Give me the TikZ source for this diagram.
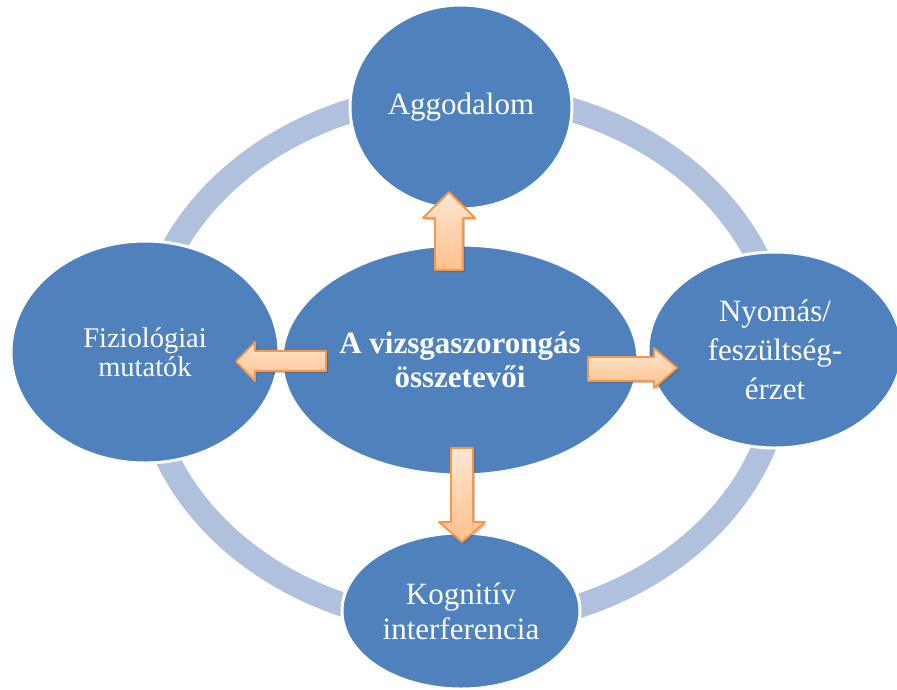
\documentclass[tikz,border=0pt]{standalone}
\usepackage{fontspec}
\setmainfont{Liberation Serif}
\usetikzlibrary{shapes.geometric,shadows}
\definecolor{discblue}{HTML}{4F81BD}
\definecolor{ringblue}{HTML}{B0C1DD}
\definecolor{arrowedge}{HTML}{F79646}
\definecolor{arrowlight}{HTML}{FFE6D2}
\definecolor{arrowdark}{HTML}{FFC08C}
\tikzset{
  disc/.style={ellipse, fill=discblue, draw=white, line width=3pt,
    text=white, align=center, inner sep=0pt},
  ringline/.style={draw=ringblue, line width=24pt},
  blockarrow/.style={draw=arrowedge, line width=1.8pt, line join=round,
    top color=arrowlight, bottom color=arrowdark,
    drop shadow={shadow xshift=2pt, shadow yshift=-2pt, opacity=0.3, fill=black!70}},
}
\begin{document}
\begin{tikzpicture}[x=1pt,y=-1pt]
\useasboundingbox (0,0) rectangle (897,689);

% background ring linking the four satellites
\draw[ringline] (463,359) ellipse [x radius=319pt, y radius=265pt];

% satellite discs
\node[disc, minimum width=222pt, minimum height=204pt,
  font=\fontsize{31}{35}\selectfont] (aggodalom) at (461,107) {Aggodalom};
\node[disc, minimum width=268pt, minimum height=222pt,
  font=\fontsize{28.5}{29.5}\selectfont] (fizio) at (145,352) {Fiziológiai\\mutatók};
\node[disc, minimum width=254pt, minimum height=196pt,
  font=\fontsize{31}{39}\selectfont] (nyomas) at (775,350) {Nyomás/\\feszültség-\\érzet};
\node[disc, minimum width=238pt, minimum height=156pt,
  font=\fontsize{31}{35}\selectfont] (kognitiv) at (461,611) {Kognitív\\interferencia};

% central disc
\node[disc, minimum width=356pt, minimum height=230pt,
  font=\bfseries\fontsize{31}{34}\selectfont] (center) at (460,360)
  {A vizsgaszorongás\\összetevői};

% block arrows from the central disc towards each satellite
\path[blockarrow] (435,270) -- (435,218) -- (423,218) -- (449,192)
  -- (475,218) -- (463,218) -- (463,270) -- cycle;
\path[blockarrow] (588,357) -- (654,357) -- (654,348) -- (677,368)
  -- (654,388) -- (654,381) -- (588,381) -- cycle;
\path[blockarrow] (326,351) -- (255,351) -- (255,342) -- (236,361.5)
  -- (255,381) -- (255,371) -- (326,371) -- cycle;
\path[blockarrow] (451,448) -- (451,522) -- (439,522) -- (462,542)
  -- (485,522) -- (473,522) -- (473,448) -- cycle;
\end{tikzpicture}
\end{document}
